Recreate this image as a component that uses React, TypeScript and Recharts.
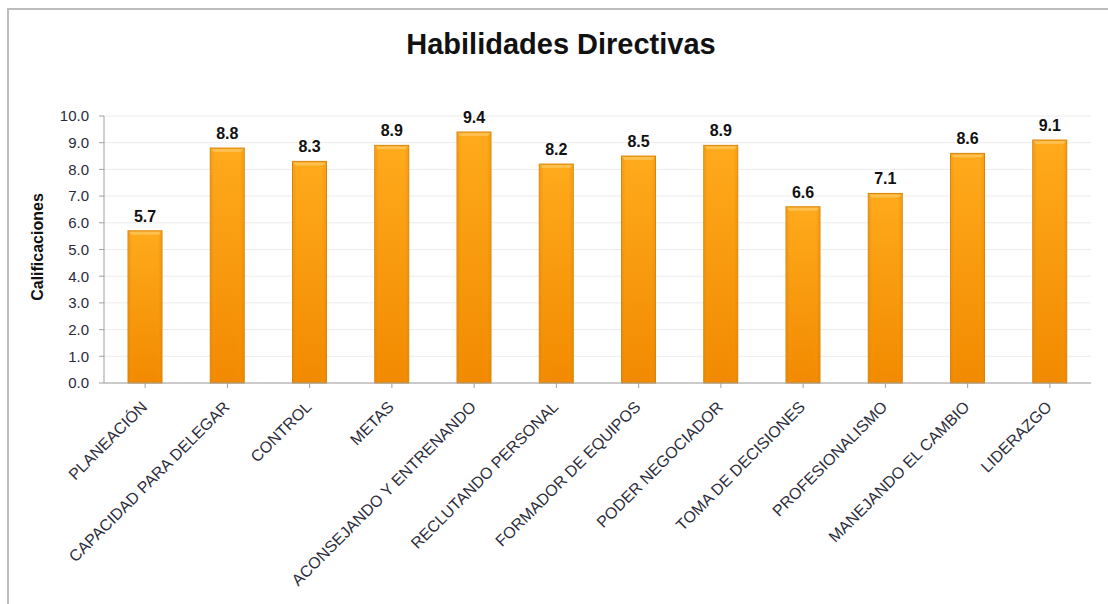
import { Bar, BarChart, CartesianGrid, LabelList, XAxis, YAxis } from 'recharts';

const categories = [
  'PLANEACIÓN',
  'CAPACIDAD PARA DELEGAR',
  'CONTROL',
  'METAS',
  'ACONSEJANDO Y ENTRENANDO',
  'RECLUTANDO PERSONAL',
  'FORMADOR DE EQUIPOS',
  'PODER NEGOCIADOR',
  'TOMA DE DECISIONES',
  'PROFESIONALISMO',
  'MANEJANDO EL CAMBIO',
  'LIDERAZGO',
];
const scores = [5.7, 8.8, 8.3, 8.9, 9.4, 8.2, 8.5, 8.9, 6.6, 7.1, 8.6, 9.1];
const yTicks = [0, 1, 2, 3, 4, 5, 6, 7, 8, 9, 10];

const data = categories.map((name, i) => ({ name, score: scores[i] }));

const FONT = 'Liberation Sans, Arial, sans-serif';

function BevelBar(props: any) {
  const { x, y, width, height } = props;
  if (!height || height <= 0) return null;
  return (
    <g>
      <rect x={x} y={y} width={width} height={height} fill="url(#barFill)" stroke="#d88408" strokeWidth={1} />
      <rect x={x + 1} y={y + 1} width={width - 2} height={height - 2} fill="url(#barSide)" />
      <path
        d={`M${x + 1},${y + 1} L${x + width - 1},${y + 1} L${x + width - 3},${y + 4} L${x + 3},${y + 4} Z`}
        fill="#ffcf70"
        opacity={0.6}
      />
    </g>
  );
}

function CategoryTick({ x, y, payload }: any) {
  return (
    <text
      x={x + 3}
      y={y + 18}
      transform={`rotate(-45, ${x + 3}, ${y + 18})`}
      textAnchor="end"
      fontSize={16}
      fontFamily={FONT}
      fill="#2b2b3a"
    >
      {payload.value}
    </text>
  );
}

export default function App() {
  return (
    <div style={{ position: 'absolute', left: 0, top: 0, width: 1108, height: 604, background: '#fff' }}>
      <div
        style={{
          position: 'absolute',
          left: 7,
          top: 8,
          width: 1101,
          height: 596,
          borderLeft: '2px solid #bdbdbd',
          borderTop: '2px solid #bdbdbd',
        }}
      />
      <div
        style={{
          position: 'absolute',
          left: 0,
          top: 27,
          width: 1122,
          textAlign: 'center',
          fontFamily: FONT,
          fontWeight: 'bold',
          fontSize: 29,
          lineHeight: '34px',
          color: '#111',
        }}
      >
        Habilidades Directivas
      </div>
      <div
        style={{
          position: 'absolute',
          left: 38,
          top: 247,
          transform: 'translate(-50%, -50%) rotate(-90deg)',
          fontFamily: FONT,
          fontWeight: 'bold',
          fontSize: 16,
          color: '#111',
          whiteSpace: 'nowrap',
        }}
      >
        Calificaciones
      </div>
      <div style={{ position: 'absolute', left: 0, top: 0 }}>
        <BarChart
          width={1108}
          height={604}
          data={data}
          margin={{ top: 116, right: 17, bottom: 0, left: 0 }}
          barSize={34}
        >
          <defs>
            <linearGradient id="barFill" x1="0" y1="0" x2="0" y2="1">
              <stop offset="0%" stopColor="#ffaa1c" />
              <stop offset="100%" stopColor="#f28a00" />
            </linearGradient>
            <linearGradient id="barSide" x1="0" y1="0" x2="1" y2="0">
              <stop offset="0%" stopColor="#e07f00" stopOpacity={0.35} />
              <stop offset="15%" stopColor="#ffb020" stopOpacity={0} />
              <stop offset="85%" stopColor="#ffb020" stopOpacity={0} />
              <stop offset="100%" stopColor="#e07f00" stopOpacity={0.35} />
            </linearGradient>
          </defs>
          <CartesianGrid vertical={false} stroke="#ececec" />
          <XAxis
            dataKey="name"
            interval={0}
            tick={<CategoryTick />}
            tickLine={{ stroke: '#a0a0a0' }}
            axisLine={{ stroke: '#a0a0a0' }}
            tickSize={5}
            height={221}
          />
          <YAxis
            domain={[0, 10]}
            ticks={yTicks}
            interval={0}
            width={104}
            tickFormatter={(v: number) => v.toFixed(1)}
            tick={{ fontSize: 15, fontFamily: FONT, fill: '#2b2b3a' }}
            tickLine={{ stroke: '#a0a0a0' }}
            axisLine={{ stroke: '#a0a0a0' }}
            tickSize={5}
            tickMargin={10}
          />
          <Bar dataKey="score" shape={<BevelBar />} isAnimationActive={false}>
            <LabelList
              dataKey="score"
              position="top"
              offset={9}
              formatter={(v: any) => Number(v).toFixed(1)}
              style={{ fontSize: 16, fontWeight: 'bold', fontFamily: FONT, fill: '#111' }}
            />
          </Bar>
        </BarChart>
      </div>
    </div>
  );
}
